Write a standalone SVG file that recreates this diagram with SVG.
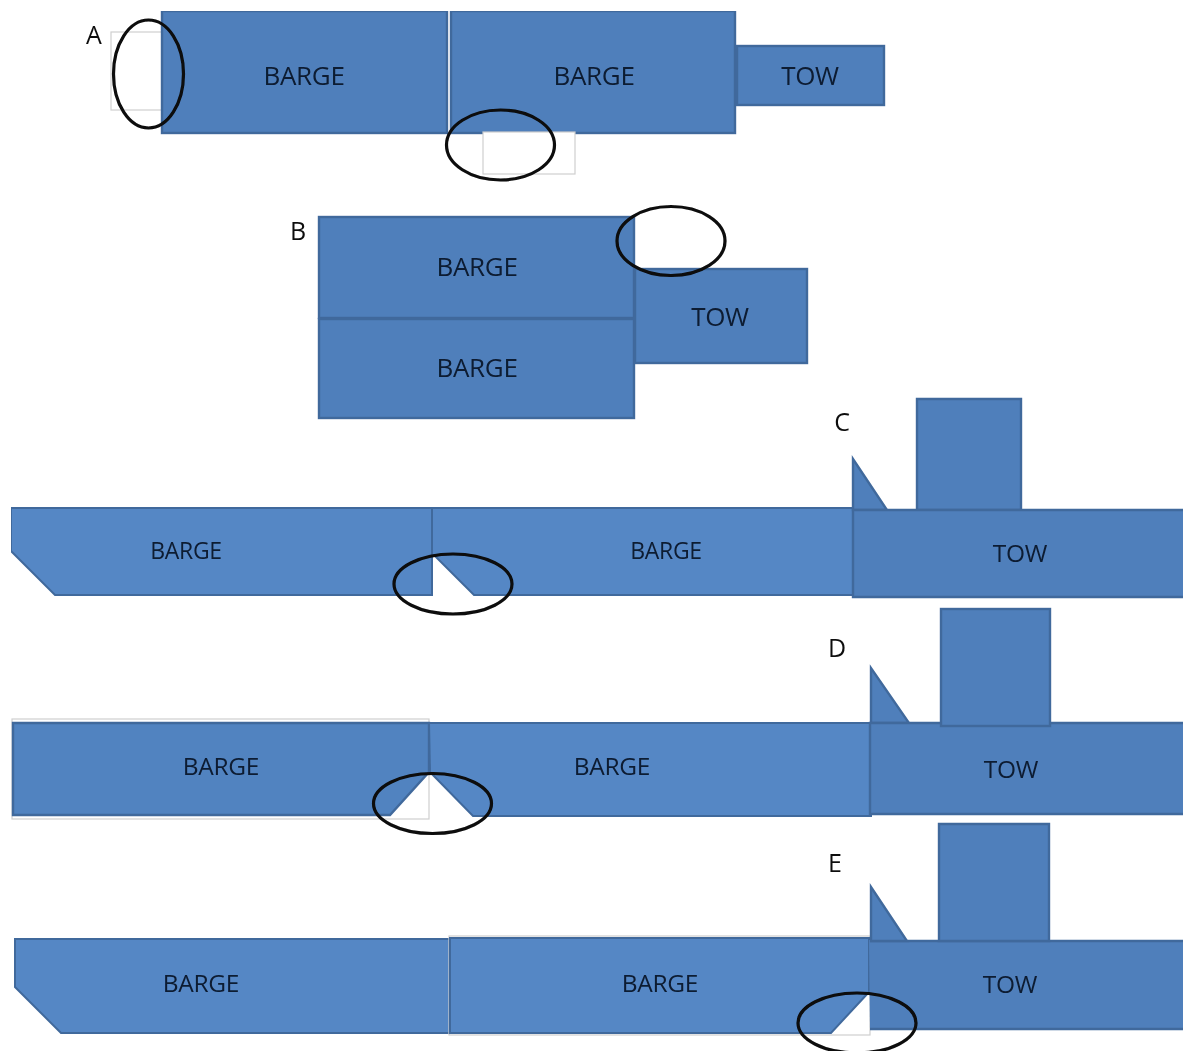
<svg xmlns="http://www.w3.org/2000/svg" width="1183" height="1051" viewBox="0 0 1183 1051">
<style>
.d{fill:#4f7fbb;stroke:#41699c;stroke-width:2.4}
.m{fill:#5183c0;stroke:#41699c;stroke-width:2.4}
.l{fill:#5587c5;stroke:#41699c;stroke-width:2}
.g{fill:#fff;stroke:#cfcfcf;stroke-width:1.2}
.e{fill:none;stroke:#0a0a0a;stroke-width:3.2}
text{font-family:"Open Sans","Noto Sans","Liberation Sans",sans-serif;fill:#0d1b30;text-anchor:middle}
.t{font-size:26px;letter-spacing:-.3px}
.u{font-size:24.500px;letter-spacing:-.3px}
.s{font-size:23px;letter-spacing:-.3px}
.k{font-size:25px;fill:#111}
</style>
<defs><filter id="soft" x="0" y="0" width="100%" height="100%"><feGaussianBlur stdDeviation="0.45"/></filter></defs>
<g filter="url(#soft)">
<g id="panel-a">
<g id="a-ghost1"><rect class="g" x="111" y="32" width="51" height="78"/></g>
<g id="a-barge1"><rect class="d" x="162" y="11" width="285" height="122"/><text class="t" x="304" y="85">BARGE</text></g>
<g id="a-barge2"><rect class="d" x="451" y="11" width="284" height="122"/><text class="t" x="594" y="85">BARGE</text></g>
<g id="a-tow"><rect class="d" x="737" y="46" width="147" height="59"/><text class="t" x="810" y="85">TOW</text></g>
<g id="a-ghost2"><rect class="g" x="483" y="132" width="92" height="42"/></g>
<text class="k" x="94" y="44">A</text>
</g>
<g id="panel-b">
<g id="b-barge1"><rect class="d" x="319" y="217" width="315" height="101"/><text class="t" x="477" y="276">BARGE</text></g>
<g id="b-barge2"><rect class="d" x="319" y="319" width="315" height="99"/><text class="t" x="477" y="377">BARGE</text></g>
<g id="b-tow"><rect class="d" x="635" y="269" width="172" height="94"/><text class="t" x="720" y="326">TOW</text></g>
<text class="k" x="298" y="240">B</text>
</g>
<g id="panel-c">
<g id="c-barge1"><path class="l" d="M11 508H432V595H55L11 551Z"/><text class="s" x="186" y="559">BARGE</text></g>
<g id="c-barge2"><path class="l" d="M432 508H853V595H474L434 555H432Z"/><text class="s" x="666" y="559">BARGE</text></g>
<g id="c-tow"><path class="d" d="M853 510V459L887 510ZM917 510V399H1021V510Z"/><path class="d" d="M1184 510H853V597H1184"/><text class="u" x="1020" y="562">TOW</text></g>
<text class="k" x="842" y="431">C</text>
</g>
<g id="panel-d">
<g id="d-ghost"><rect class="g" x="12" y="719" width="417" height="100"/></g>
<g id="d-barge1"><path class="m" d="M13 723H429V772L390 815H13Z"/><text class="u" x="221" y="775">BARGE</text></g>
<g id="d-barge2"><path class="l" d="M429 723H871V816H473L430 772Z"/><text class="u" x="612" y="775">BARGE</text></g>
<g id="d-tow"><path class="d" d="M871 723V668L909 723Z"/><path class="d" d="M1184 723H870V814H1184"/><rect class="d" x="941" y="609" width="109" height="117"/><text class="u" x="1011" y="778">TOW</text></g>
<text class="k" x="837" y="657">D</text>
</g>
<g id="panel-e">
<g id="e-barge1"><path class="l" d="M15 939H450V1033H61L15 987Z"/><text class="u" x="201" y="992">BARGE</text></g>
<g id="e-ghost"><rect class="g" x="449" y="936" width="421" height="99"/></g>
<g id="e-barge2"><path class="l" d="M450 938H869V992L831 1033H450Z"/><text class="u" x="660" y="992">BARGE</text></g>
<g id="e-tow"><path d="M869 940H1184V1030H870Z" fill="#4f7fbb"/><path d="M870 941H1184M870 1029H1184" stroke="#41699c" stroke-width="2.400" fill="none"/><path class="d" d="M871 941V887L907 941ZM939 941V824H1049V941Z"/><text class="u" x="1010" y="993">TOW</text></g>
<text class="k" x="835" y="872">E</text>
</g>
<g id="circles">
<ellipse class="e" cx="148.500" cy="74" rx="35" ry="54"/>
<ellipse class="e" cx="500.500" cy="145" rx="54" ry="35"/>
<ellipse class="e" cx="671" cy="241" rx="54" ry="34.500"/>
<ellipse class="e" cx="453" cy="584" rx="59" ry="30"/>
<ellipse class="e" cx="432.500" cy="803.500" rx="59" ry="30"/>
<ellipse class="e" cx="857" cy="1023" rx="59" ry="30"/>
</g>
</g>
</svg>
